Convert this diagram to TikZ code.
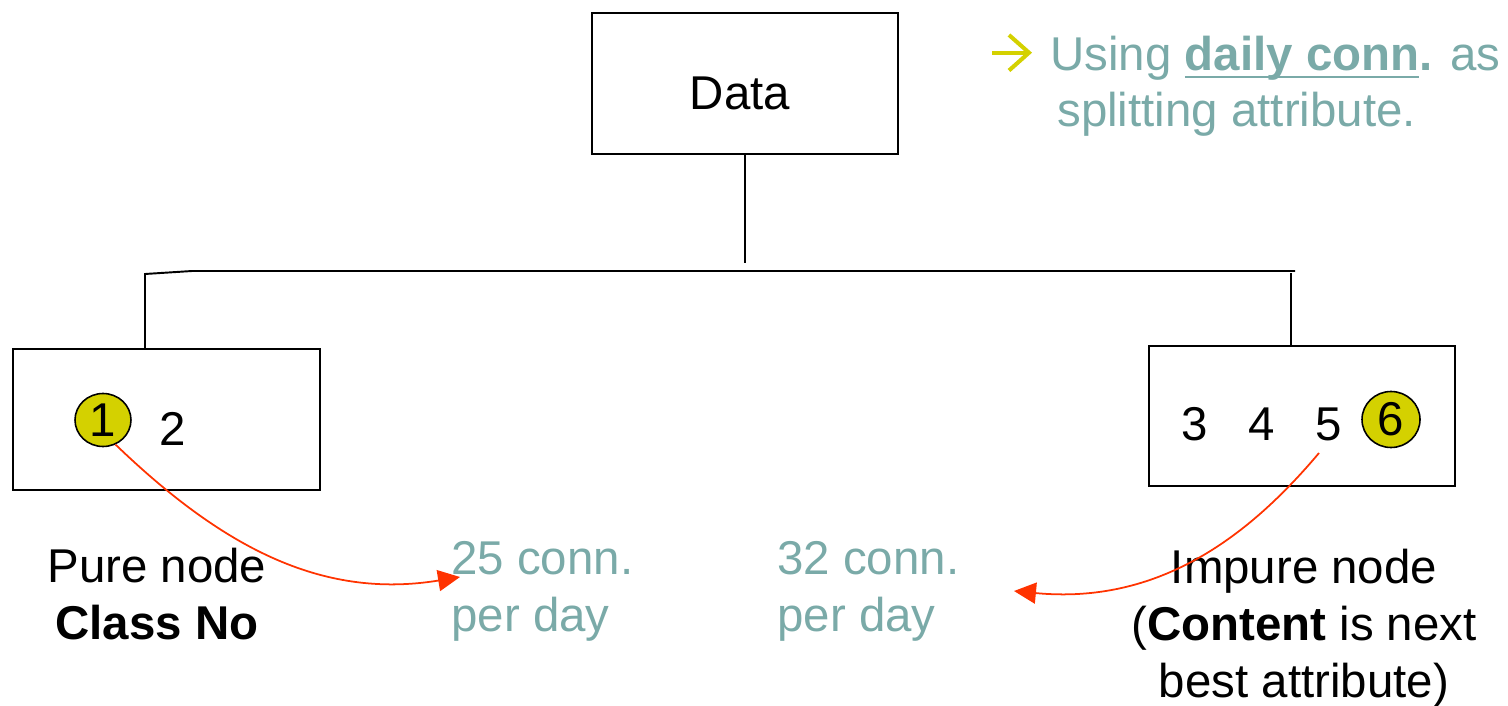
\documentclass[tikz,border=0pt]{standalone}
\usepackage{fontspec}
\setmainfont{Liberation Sans}
\usetikzlibrary{shapes.geometric,arrows.meta}
\definecolor{tealtext}{HTML}{7AAAA8}
\definecolor{hilite}{HTML}{D4D100}
\definecolor{linkred}{HTML}{FF3300}
% underline sitting just below the baseline, crossing the descenders
\newcommand\lowul[1]{\setbox0\hbox{#1}\rlap{\rule[-0.17em]{\wd0}{0.05em}}\box0}
\tikzset{
  x=0.02cm, y=-0.02cm,
  every node/.style={font=\fontsize{27}{32.4}\selectfont, inner sep=0pt},
  treebox/.style={draw=black, line width=1.2pt, rectangle},
  branch/.style={line width=1.1pt, draw=black},
  pick/.style={ellipse, draw=black, line width=0.9pt, fill=hilite},
  tealnote/.style={text=tealtext, align=left, anchor=base west},
  caption/.style={align=center, anchor=base},
  link/.style={draw=linkred, line width=1pt, -{Triangle[length=12.5pt,width=12pt]}},
}
\begin{document}
\begin{tikzpicture}
\useasboundingbox (0,0) rectangle (1508,706);

% tree boxes
\node[treebox, minimum width=306*0.02cm, minimum height=141*0.02cm] (data) at (745,83.5) {};
\node[anchor=base] (datatext) at (740,110) {Data};
\node[treebox, minimum width=307*0.02cm, minimum height=141*0.02cm] (lbox) at (166.5,419.5) {};
\node[treebox, minimum width=306*0.02cm, minimum height=140*0.02cm] (rbox) at (1302,416) {};

% branch connectors
\coordinate (stem) at (745,263);
\coordinate (jl) at (145,274);
\coordinate (jh) at (192,271);
\coordinate (jr) at (1295,271);
\coordinate (jrv) at (1291,273);
\draw[branch] (data.south) -- (stem);
\draw[branch] (jl |- lbox.north) -- (jl) -- (jh) -- (jr);
\draw[branch] (jrv) -- (jrv |- rbox.north);

% records in the leaves
\node[pick, minimum width=56*0.02cm, minimum height=53*0.02cm] (c1) at (103,420) {1};
\node[anchor=base] (d2) at (173,445) {2};
\node[anchor=base] (d3) at (1195,440) {3};
\node[anchor=base] (d4) at (1262,440) {4};
\node[anchor=base] (d5) at (1329,440) {5};
\node[pick, minimum width=58*0.02cm, minimum height=56*0.02cm] (c6) at (1391,419.5) {6};

% captions under the leaves (anchored at the baseline of their last line)
\node[caption] (pure) at (157,639) {Pure node\\\textbf{Class No}};
\node[caption] (impure) at (1304,697) {Impure node\\(\textbf{Content} is next\\best attribute)};

% attribute values
\node[tealnote] (v25) at (451,631) {25 conn.\\per day};
\node[tealnote] (v32) at (777,631) {32 conn.\\per day};

% note at the top right
\draw[hilite, line width=2.3pt] (992,52.7) -- (1029,52.7);
\draw[hilite, line width=2.3pt] (1009,35) -- (1029,52.7) -- (1009,70.5);
\node[tealnote] (note) at (1050,127) {Using \lowul{\textbf{daily conn}}\textbf{.} as\\\hspace*{0.14cm}splitting attribute.};

% value arrows
\coordinate (s5) at (1319,453);
\coordinate (t25) at (460,577);
\coordinate (t32) at (1014,591);
\draw[link] (c1.-63) .. controls (220,545) and (320,600) .. (t25);
\draw[link] (s5) .. controls (1250,535) and (1160,605) .. (t32);
\end{tikzpicture}
\end{document}
